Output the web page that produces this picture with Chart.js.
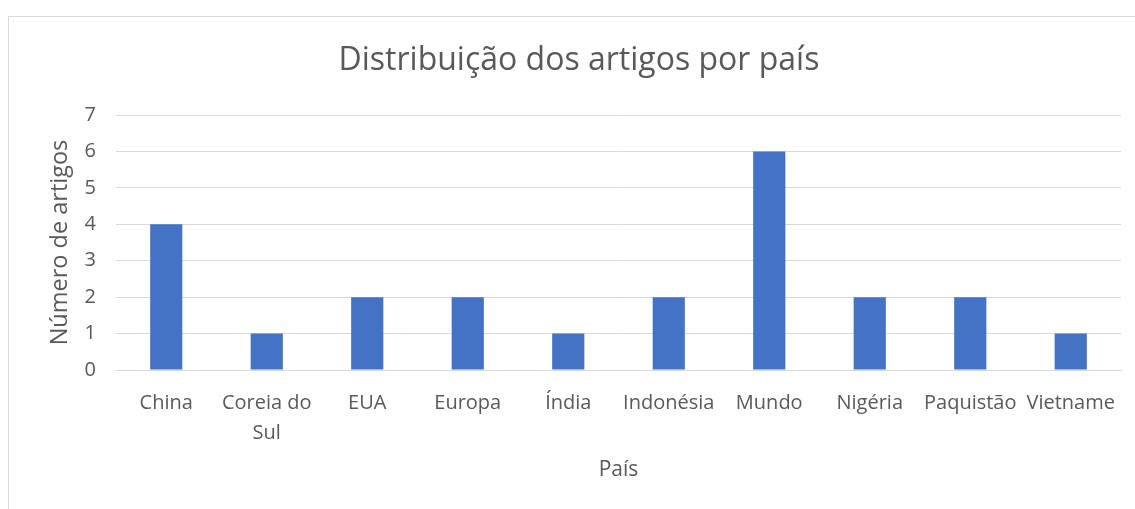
<!DOCTYPE html>
<html>
<head>
<meta charset="utf-8">
<script src="https://cdn.jsdelivr.net/npm/chart.js@4.4.1/dist/chart.umd.min.js"></script>
<style>
  html, body { margin: 0; padding: 0; background: #fff; }
  #frame {
    position: absolute; left: 8px; top: 16px; width: 1140px; height: 500px;
    border-left: 1px solid #d9d9d9; border-top: 1px solid #d9d9d9;
  }
  #wrap { position: absolute; left: 0; top: 0; width: 1135px; height: 509px; }
</style>
</head>
<body>
<div id="frame"></div>
<div id="wrap"><canvas id="myChart" width="1135" height="509"></canvas></div>
<script>
const paises = ['China', ['Coreia do', 'Sul'], 'EUA', 'Europa', 'Índia', 'Indonésia', 'Mundo', 'Nigéria', 'Paquistão', 'Vietname']
const artigos = [4, 1, 2, 2, 1, 2, 6, 2, 2, 1]

const textColor = '#595959'
const gridColor = '#d9d9d9'
const fontFamily = '"Open Sans", sans-serif'

const ctx = document.getElementById('myChart')
const myChart = new Chart(ctx, {
  type: 'bar',
  data: {
    labels: paises,
    datasets: [{
      label: 'Número de artigos',
      data: artigos,
      backgroundColor: '#4472c4',
      barPercentage: 0.32,
      categoryPercentage: 1
    }]
  },
  options: {
    responsive: false,
    animation: false,
    layout: {
      padding: { left: 37, right: 14, top: 0, bottom: 0 }
    },
    plugins: {
      legend: { display: false },
      tooltip: { enabled: false },
      title: {
        display: true,
        text: 'Distribuição dos artigos por país',
        color: textColor,
        font: { family: fontFamily, size: 32, weight: 'normal', lineHeight: 1.2 },
        padding: { top: 42, bottom: 34.6 }
      }
    },
    scales: {
      x: {
        grid: { display: false, drawTicks: false },
        border: { color: gridColor, width: 1 },
        ticks: {
          color: textColor,
          font: { family: fontFamily, size: 20, lineHeight: 1.5 },
          padding: 18,
          maxRotation: 0,
          autoSkip: false
        },
        title: {
          display: true,
          text: 'País',
          color: textColor,
          font: { family: fontFamily, size: 21, lineHeight: 1.2 },
          padding: { top: 26, bottom: 26 }
        },
        afterFit: (scale) => { scale.height = 139 }
      },
      y: {
        min: 0,
        max: 7,
        grid: { color: gridColor, drawTicks: false },
        border: { display: false },
        ticks: {
          stepSize: 1,
          color: textColor,
          font: { family: fontFamily, size: 20 },
          padding: 20
        },
        title: {
          display: true,
          text: 'Número de artigos',
          color: textColor,
          font: { family: fontFamily, size: 23.5, lineHeight: 1.2 },
          padding: { top: 9, bottom: 9 }
        },
        afterFit: (scale) => { scale.width = 79 }
      }
    }
  }
})
</script>
</body>
</html>
